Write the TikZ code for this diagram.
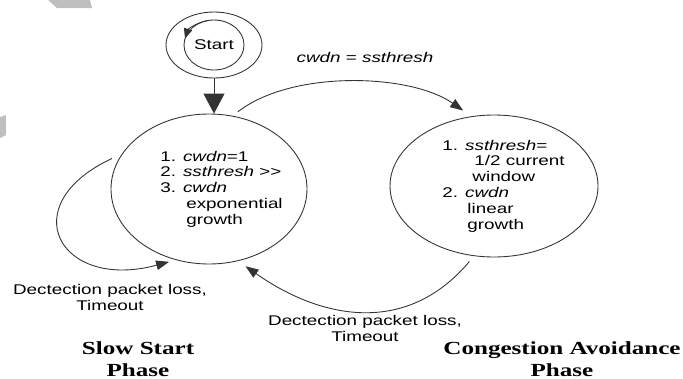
\documentclass[tikz,border=0pt]{standalone}
\usepackage{fontspec}
\newfontfamily\diagfont{Liberation Sans}[FakeStretch=1.34]
\newfontfamily\phasefont{Liberation Serif}[FakeStretch=1.36]
\usepackage{tikz}
\usetikzlibrary{shapes.geometric}
\usetikzlibrary{arrows.meta}
\usetikzlibrary{positioning}

\begin{document}
\begin{tikzpicture}[
    every node/.style={font=\diagfont\fontsize{8pt}{9pt}\selectfont},
    state/.style={draw=black!80, line width=0.5pt, ellipse, inner sep=0pt},
    edge/.style={draw=black!80, line width=0.5pt, -{Triangle[length=0.26cm, width=0.19cm]}},
    listtext/.style={align=left, inner sep=0pt},
    phase/.style={font=\phasefont\bfseries\fontsize{10.5pt}{12.5pt}\selectfont, align=center}
  ]
    \useasboundingbox (0, 0) rectangle (13.66, -7.56);

    % watermark scraps
    \fill[black!25] (0.96, 0) -- (1.8, 0) -- (1.84, -0.16) -- (1.14, -0.16) -- cycle;
    \fill[black!25] (0, -2.34) -- (0.12, -2.3) -- (0.12, -2.7) -- (0, -2.76) -- cycle;

    % Draw states
    \node[state, minimum width=1.92cm, minimum height=1.32cm] (start) at (4.28, -0.9) {Start};
    \draw[black!80, line width=0.5pt] (start) ellipse [x radius=0.6, y radius=0.5];
    \draw[black!80, line width=0.5pt, -{Triangle[length=0.2cm, width=0.17cm]}]
        (start) ++({0.6*cos(100)}, {0.5*sin(100)}) arc[start angle=100, end angle=165, x radius=0.6, y radius=0.5];

    \node[state, minimum width=3.92cm, minimum height=3cm] (ss) at (4.18, -3.78) {};
    \node[listtext, xshift=0.25cm] (ssText) at (ss) {1. \textit{cwdn}=1\\
        2. \textit{ssthresh} >{}>\\
        3. \textit{cwdn}\\
        \hspace*{0.52cm}exponential\\
        \hspace*{0.52cm}growth};

    \node[state, minimum width=4.16cm, minimum height=2.84cm] (ca) at (9.88, -3.72) {};
    \node[listtext, xshift=0.19cm] (caText) at (ca) {1. \textit{ssthresh}=\\
        \hspace*{0.64cm}1/2 current\\
        \hspace*{0.6cm}window\\
        2. \textit{cwdn}\\
        \hspace*{0.5cm}linear\\
        \hspace*{0.5cm}growth};

    % Draw transitions
    \draw[black!80, line width=0.5pt, -{Triangle[length=0.4cm, width=0.42cm]}] (start.south) -- (start.south |- ss.north);
    \draw[edge, shorten <=0.13cm, shorten >=0.2cm] (ss.72) to[out=38, in=145, looseness=0.8] (ca.108);
    \draw[edge, shorten <=0.14cm, shorten >=0.18cm] (ca.254) to[out=230, in=-35, looseness=1.12] (ss.292);
    \draw[edge, shorten <=0.22cm, shorten >=0.14cm] (ss.158) to[out=205, in=195, looseness=2.6] (ss.245);

    % Labels
    \node (topLbl) at (7.3, -1.14) {\textit{cwdn} = \textit{ssthresh}};
    \node[align=center] (loopLbl) at (2.2, -5.95) {Dectection packet loss,\\Timeout};
    \node[align=center] (backLbl) at (7.3, -6.57) {Dectection packet loss,\\Timeout};
    \node[phase] (slowLbl) at (2.76, -7.18) {Slow Start\\Phase};
    \node[phase] (congLbl) at (11.24, -7.18) {Congestion Avoidance\\Phase};

\end{tikzpicture}
\end{document}
